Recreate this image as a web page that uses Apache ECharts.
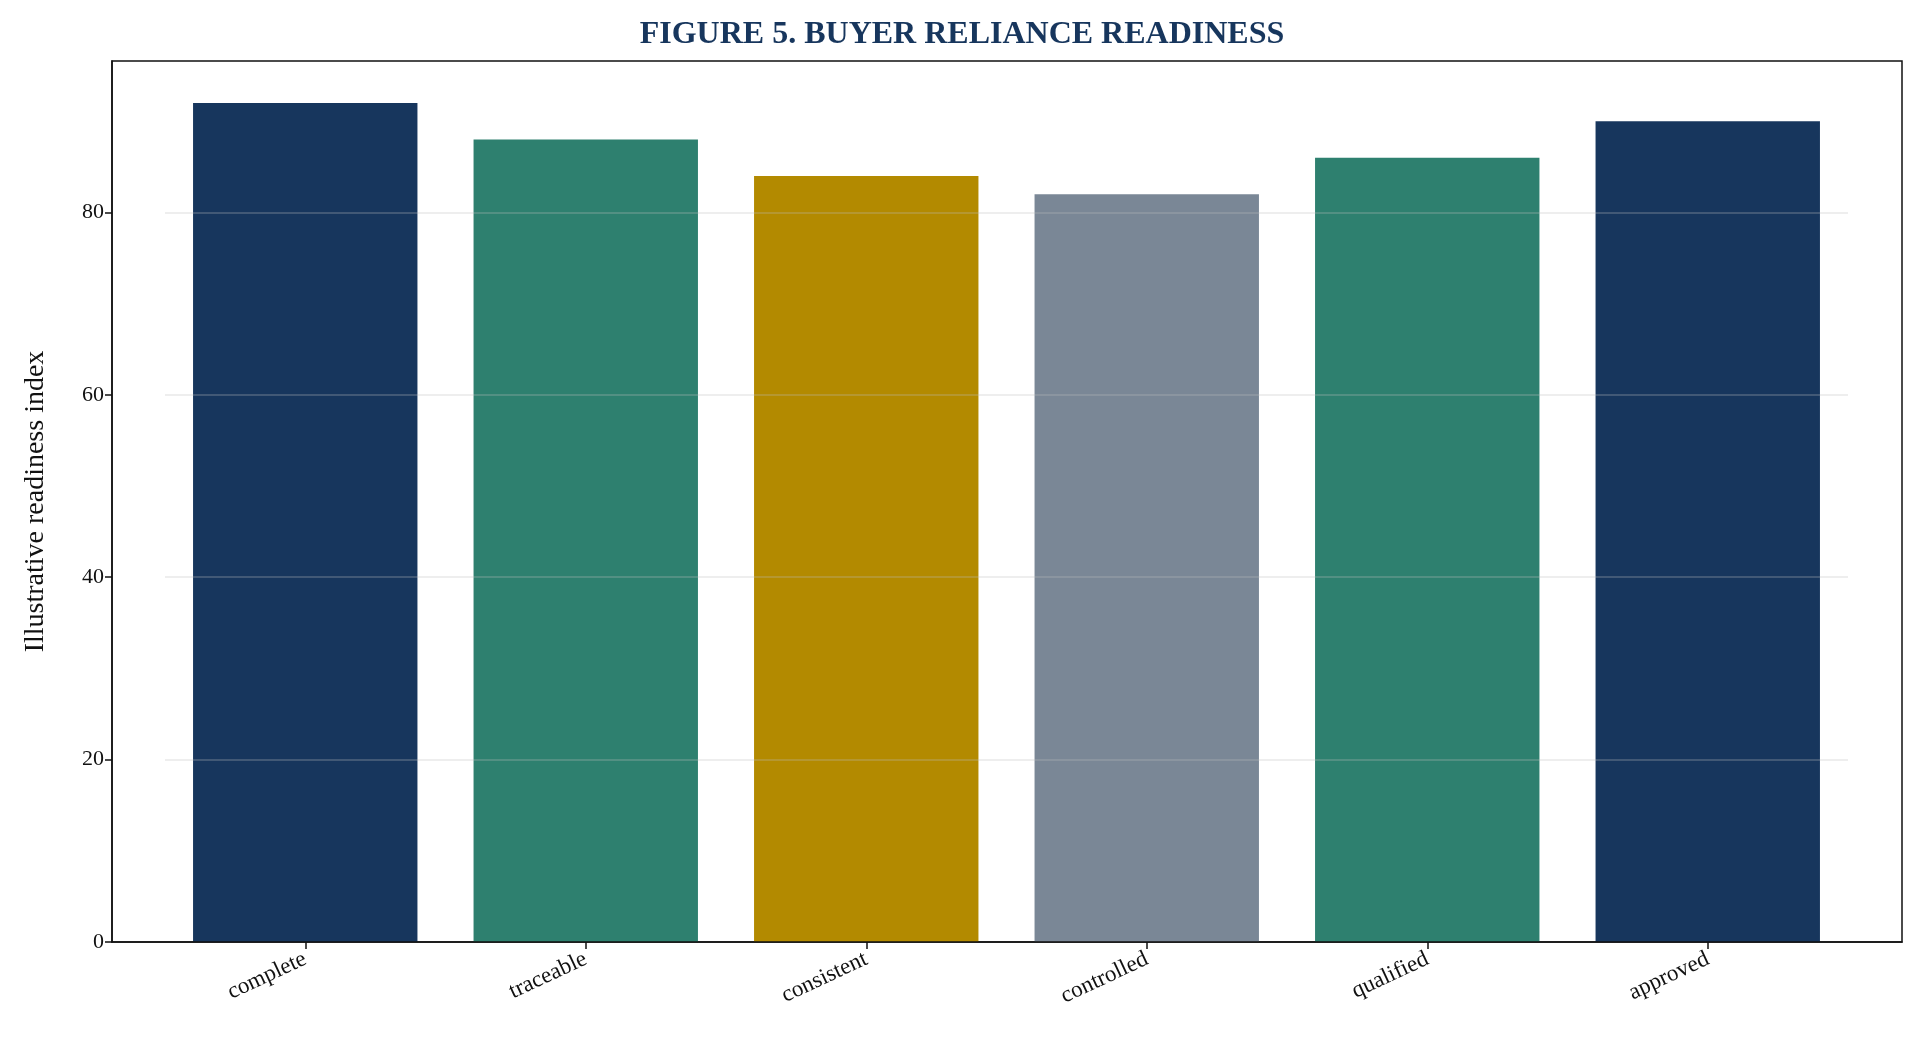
<!DOCTYPE html>
<html><head><meta charset="utf-8">
<script src="https://cdn.jsdelivr.net/npm/echarts@6/dist/echarts.min.js"></script>
<style>html,body{margin:0;padding:0;background:#fff}#c{width:1924px;height:1053px}</style>
</head><body><div id="c"></div>
<script>
const categories = ['complete','traceable','consistent','controlled','qualified','approved'];
const values = [92, 88, 84, 82, 86, 90];
const colors = ['#17365d','#2e806f','#b38a00','#7a8796','#2e806f','#17365d'];
const gridTicks = [20, 40, 60, 80];
const FONT = '"Liberation Serif", "Times New Roman", serif';
const YMAX = 96.6;
const chart = echarts.init(document.getElementById('c'));
chart.setOption({
  animation: false,
  title: { text: 'FIGURE 5. BUYER RELIANCE READINESS', left: 'center', top: 14,
    textStyle: { fontFamily: FONT, fontSize: 32, fontWeight: 'bold', color: '#17365d' } },
  grid: [
    { left: 112, right: 22, top: 61, bottom: 111, show: true, borderColor: '#111', borderWidth: 1.5, backgroundColor: 'transparent', z: 5 },
    { left: 165, right: 76, top: 61, bottom: 111 }
  ],
  xAxis: [
    { gridIndex: 0, type: 'value', min: 0, max: 1, show: true,
      axisLine: { lineStyle: { color: '#111', width: 1.5 } }, axisTick: { show: false },
      axisLabel: { show: false }, splitLine: { show: false } },
    { gridIndex: 1, type: 'category', data: categories,
      axisLine: { show: false },
      axisTick: { show: true, alignWithLabel: true, length: 7, lineStyle: { color: '#111', width: 1.5 } },
      axisLabel: { rotate: 25, fontFamily: FONT, fontSize: 23, color: '#111', margin: 16 } }
  ],
  yAxis: [
    { gridIndex: 0, type: 'value', min: 0, max: YMAX, interval: 20,
      name: 'Illustrative readiness index', nameLocation: 'middle', nameGap: 62,
      nameTextStyle: { fontFamily: FONT, fontSize: 28, color: '#111' },
      axisLine: { show: true, lineStyle: { color: '#111', width: 1.5 } },
      axisTick: { show: true, length: 7, lineStyle: { color: '#111', width: 1.5 } },
      splitLine: { show: false },
      axisLabel: { fontFamily: FONT, fontSize: 22, color: '#111', showMaxLabel: false,
        formatter: v => (v % 20 === 0 ? String(v) : '') } },
    { gridIndex: 1, type: 'value', min: 0, max: YMAX, show: false, splitLine: { show: false } }
  ],
  series: [{
    type: 'bar', xAxisIndex: 1, yAxisIndex: 1, barWidth: '80%',
    data: values.map((v, i) => ({ value: v, itemStyle: { color: colors[i] } })),
    markLine: { silent: true, symbol: 'none', label: { show: false },
      lineStyle: { color: 'rgba(190,190,190,0.35)', type: 'solid', width: 1.5 },
      data: gridTicks.map(t => ({ yAxis: t })) }
  }]
});
</script></body></html>
